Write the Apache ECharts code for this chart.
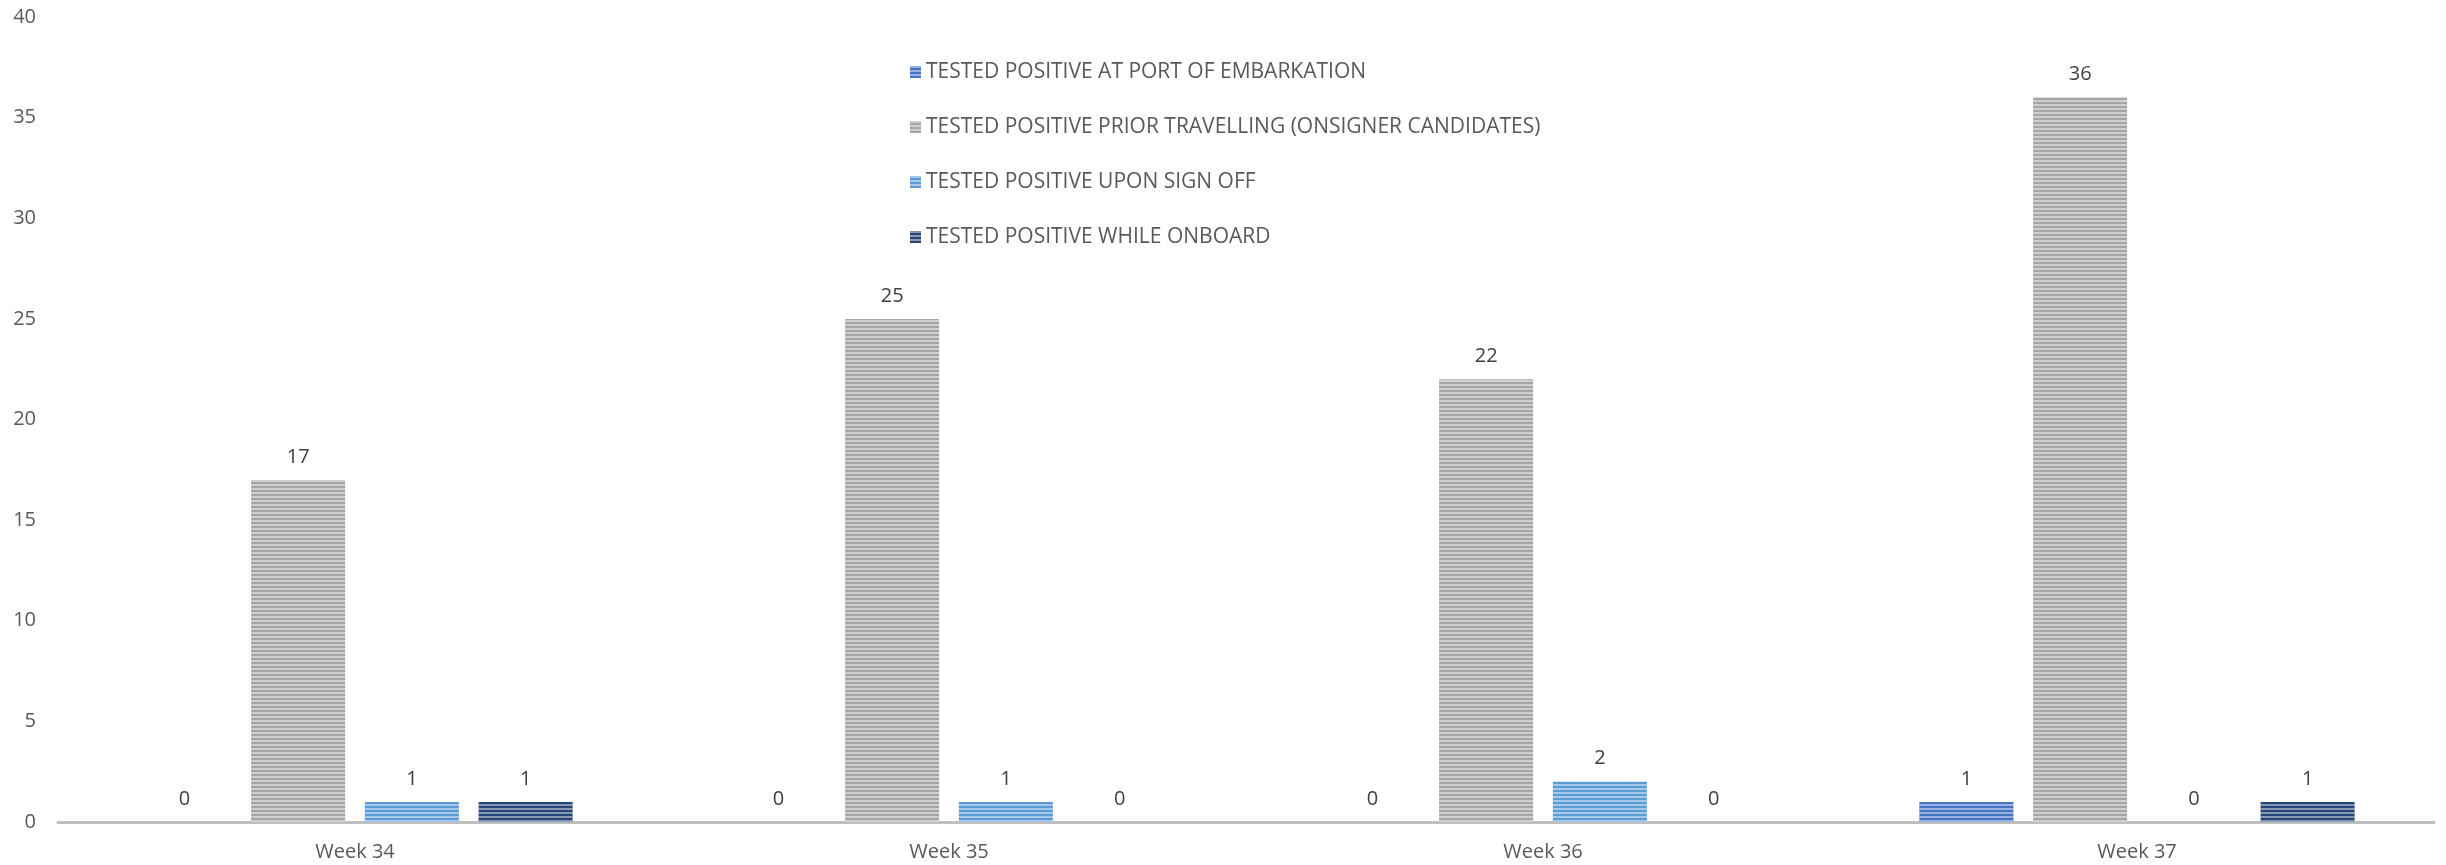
<!DOCTYPE html>
<html><head><meta charset="utf-8">
<script src="https://cdn.jsdelivr.net/npm/echarts@6/dist/echarts.min.js"></script>
<style>html,body{margin:0;padding:0;background:#fff}#c{width:2446px;height:865px}</style>
</head><body><div id="c"></div>
<script>
const categories = ['Week 34', 'Week 35', 'Week 36', 'Week 37'];
const seriesNames = [
  'TESTED POSITIVE AT PORT OF EMBARKATION',
  'TESTED POSITIVE PRIOR TRAVELLING (ONSIGNER CANDIDATES)',
  'TESTED POSITIVE UPON SIGN OFF',
  'TESTED POSITIVE WHILE ONBOARD'
];
const portEmbarkation = [0, 0, 0, 1];
const priorTravelling = [17, 25, 22, 36];
const uponSignOff = [1, 1, 2, 0];
const whileOnboard = [1, 0, 0, 1];
const yTicks = [0, 5, 10, 15, 20, 25, 30, 35, 40];

const colors = ['#4472C4', '#A5A5A5', '#5B9BD5', '#264478'];
const values = [portEmbarkation, priorTravelling, uponSignOff, whileOnboard];
const font = '"Open Sans", sans-serif';

const chart = echarts.init(document.getElementById('c'));
chart.setOption({
  animation: false,
  color: colors,
  legend: {
    orient: 'vertical',
    left: 905,
    top: 55,
    itemWidth: 11,
    itemHeight: 12,
    itemGap: 31,
    icon: 'rect',
    textStyle: { color: '#595959', fontSize: 21, lineHeight: 24, fontFamily: font },
    data: seriesNames
  },
  grid: { left: 58, right: 12, top: 17, bottom: 43, containLabel: false },
  xAxis: {
    type: 'category',
    data: categories,
    axisLine: { lineStyle: { color: '#BFBFBF', width: 3 } },
    axisTick: { show: false },
    axisLabel: { color: '#595959', fontSize: 20, fontFamily: font, margin: 20 }
  },
  yAxis: {
    type: 'value',
    min: yTicks[0],
    max: yTicks[yTicks.length - 1],
    interval: 5,
    splitLine: { show: false },
    axisLine: { show: false },
    axisTick: { show: false },
    axisLabel: { color: '#595959', fontSize: 20, fontFamily: font, margin: 22 }
  },
  series: seriesNames.map((n, i) => ({
    name: n,
    type: 'bar',
    data: values[i],
    barWidth: 94,
    barGap: '21%',
    itemStyle: {
      color: colors[i],
      decal: {
        symbol: 'rect',
        symbolSize: 1,
        dashArrayX: [1, 0],
        dashArrayY: [2, 2],
        color: 'rgba(255,255,255,0.45)',
        rotation: 0
      }
    },
    label: {
      show: true,
      position: 'top',
      distance: 13,
      color: '#404040',
      fontSize: 20,
      fontFamily: font
    }
  }))
});
</script></body></html>
